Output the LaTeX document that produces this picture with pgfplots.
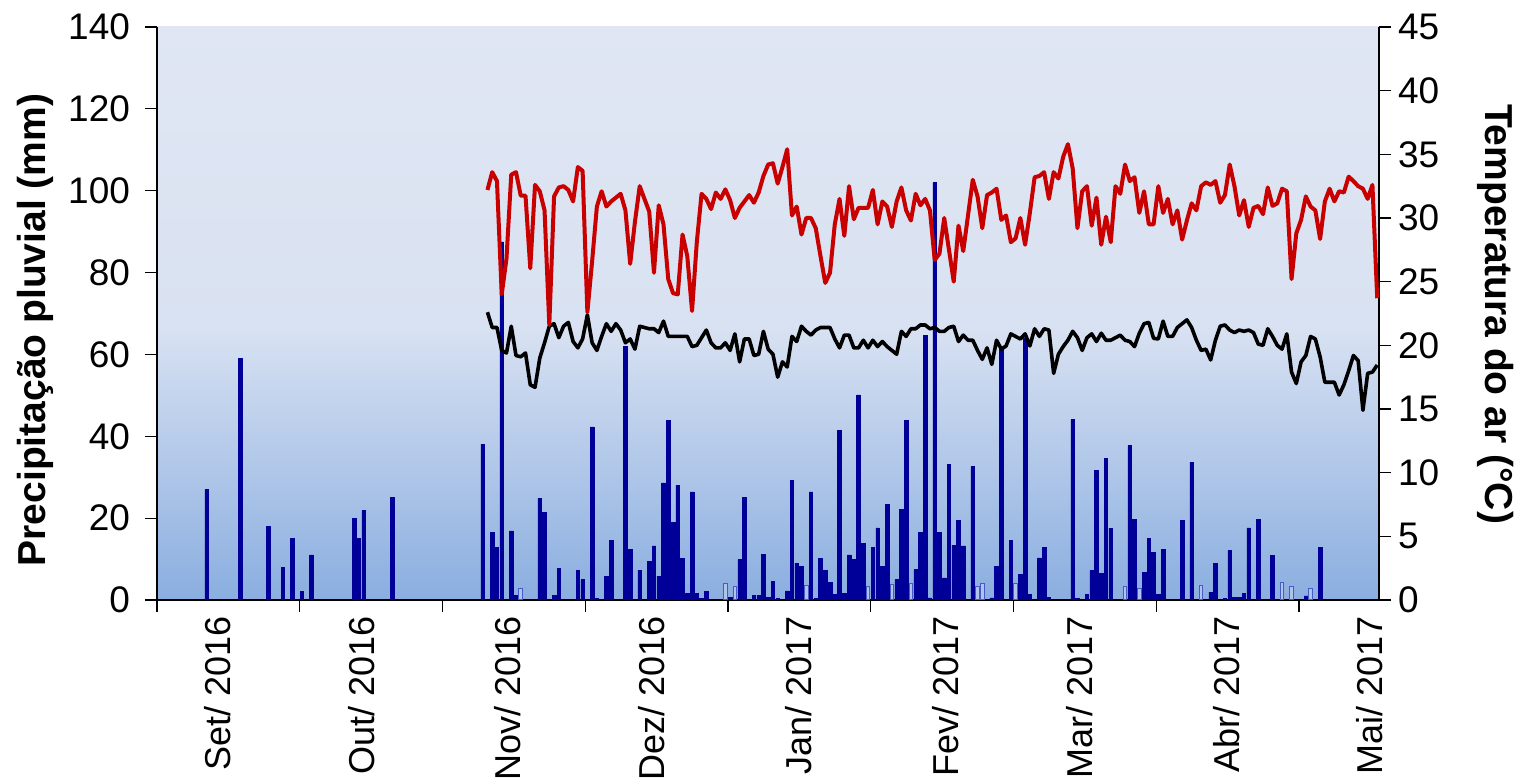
\documentclass[border=0pt]{standalone}
\usepackage{fontspec}
\setmainfont{Liberation Sans}
\usepackage{pgfplots}
\usepackage{pgfplotstable}
\pgfplotsset{compat=1.18}

\definecolor{rainblue}{RGB}{0,0,153}
\definecolor{hollowedge}{RGB}{70,90,200}
\definecolor{hollowfill}{RGB}{175,195,235}
\definecolor{tmaxred}{RGB}{200,0,0}
\definecolor{bgbot}{RGB}{138,174,224}
\definecolor{bgmid}{RGB}{217,226,242}
\definecolor{bgtop}{RGB}{224,230,243}
\pgfdeclareverticalshading{plotbg}{100bp}{color(0bp)=(bgbot); color(25bp)=(bgbot); color(49bp)=(bgmid); color(75bp)=(bgtop); color(100bp)=(bgtop)}

% daily rain (mm), day index k
\pgfplotstableread{
k mm
10 27.0
17 59.0
23 18.0
26 8.0
28 15.0
30 2.1
32 11.0
41 20.0
42 15.1
43 21.9
49 25.1
68 38.0
70 16.5
71 12.8
72 87.5
74 16.9
75 1.2
80 24.8
81 21.4
83 1.1
84 7.7
88 7.3
89 5.0
91 42.3
92 0.4
94 5.7
95 14.6
98 62.0
99 12.4
101 7.3
103 9.4
104 13.2
105 5.8
106 28.6
107 43.8
108 19.0
109 28.0
110 10.2
111 1.6
112 26.4
113 1.6
114 0.4
115 2.1
120 0.7
122 9.9
123 25.1
125 1.1
126 1.1
127 11.2
128 0.7
129 4.6
130 0.3
132 2.2
133 29.2
134 9.0
135 8.2
137 26.4
138 0.3
139 10.1
140 7.2
141 4.3
142 1.4
143 41.4
144 1.6
145 11.0
146 9.9
147 50.1
148 13.8
150 12.9
151 17.6
152 8.2
153 23.4
155 5.0
156 22.2
157 43.8
159 7.4
160 16.5
161 64.7
162 0.5
163 102.0
164 16.5
165 5.4
166 33.2
167 13.4
168 19.5
169 13.2
171 32.6
175 0.5
176 8.2
177 61.5
179 14.6
181 6.3
182 63.9
183 1.4
185 10.3
186 12.9
187 0.7
192 44.1
193 0.4
195 1.4
196 7.2
197 31.6
198 6.5
199 34.5
200 17.5
204 37.7
205 19.7
207 6.8
208 15.1
209 11.6
210 1.4
211 12.4
215 19.5
217 33.6
221 1.9
222 9.0
224 0.4
225 12.1
226 0.7
227 0.7
228 1.6
229 17.6
231 19.6
234 10.9
241 1.0
244 12.8
}\rainsolid

\pgfplotstableread{
k mm
76 2.8
119 4.0
121 3.2
136 3.6
149 3.3
154 3.8
158 4.0
172 3.3
173 4.1
180 4.0
203 3.2
206 2.9
219 3.6
236 4.2
238 3.3
242 2.8
}\rainhollow

% air temperature (C): max and min
\pgfplotstableread{
k tmax tmin
69 32.2 22.6
70 33.6 21.4
71 32.9 21.4
72 24.0 19.6
73 26.8 19.4
74 33.4 21.5
75 33.6 19.2
76 31.75 19.1
77 31.75 19.4
78 26.05 16.9
79 32.6 16.7
80 32.1 19.0
81 30.6 20.2
82 21.6 21.5
83 31.7 21.7
84 32.4 20.6
85 32.5 21.5
86 32.2 21.8
87 31.3 20.3
88 34.0 19.8
89 33.7 20.5
90 22.6 22.4
91 26.6 20.2
92 30.9 19.6
93 32.1 20.7
94 30.9 21.7
95 31.3 21.1
96 31.6 21.7
97 31.9 21.2
98 30.6 20.2
99 26.4 20.5
100 29.7 19.7
101 32.5 21.5
102 31.5 21.4
103 30.5 21.3
104 25.7 21.3
105 31.0 21.0
106 29.5 21.9
107 25.2 20.7
108 24.1 20.7
109 24.0 20.7
110 28.7 20.7
111 27.0 20.7
112 22.7 19.9
113 28.1 20.0
114 31.9 20.6
115 31.5 21.2
116 30.7 20.2
117 32.0 19.8
118 31.5 19.8
119 32.25 20.2
120 31.4 19.6
121 30.0 20.9
122 30.8 18.7
123 31.3 20.5
124 31.8 20.5
125 31.2 19.2
126 32.0 19.3
127 33.3 21.1
128 34.2 19.7
129 34.3 19.3
130 32.7 17.5
131 34.0 18.7
132 35.4 18.3
133 30.2 20.7
134 30.9 20.3
135 28.7 21.5
136 30.0 21.1
137 30.0 20.8
138 29.2 21.2
139 27.0 21.4
140 24.9 21.4
141 25.7 21.4
142 29.5 20.5
143 31.5 19.8
144 28.6 20.8
145 32.5 20.8
146 29.9 19.8
147 30.8 19.8
148 30.8 20.4
149 30.8 19.8
150 32.2 20.4
151 29.5 19.9
152 31.3 20.3
153 30.9 19.9
154 29.3 19.6
155 31.3 19.3
156 32.4 21.1
157 30.6 20.7
158 29.8 21.3
159 31.9 21.3
160 31.0 21.6
161 31.5 21.6
162 30.6 21.3
163 26.7 21.4
164 27.2 21.1
165 30.0 21.1
166 27.5 21.4
167 25.0 21.5
168 29.4 20.3
169 27.4 20.8
170 30.2 20.4
171 33.0 20.4
172 31.7 19.6
173 29.2 18.9
174 31.8 19.8
175 32.0 18.5
176 32.3 20.4
177 29.85 19.7
178 30.2 19.95
179 28.1 20.9
180 28.4 20.7
181 30.0 20.5
182 27.9 20.9
183 30.4 19.95
184 33.2 21.3
185 33.3 20.7
186 33.6 21.3
187 31.5 21.2
188 33.6 17.8
189 33.1 19.3
190 34.8 19.9
191 35.8 20.4
192 33.9 21.1
193 29.2 20.6
194 32.1 19.6
195 32.5 20.6
196 29.4 20.9
197 31.6 20.3
198 27.9 20.95
199 30.1 20.4
200 28.1 20.4
201 32.5 20.6
202 31.9 20.8
203 34.2 20.4
204 32.9 20.3
205 33.2 19.9
206 30.4 20.95
207 32.1 21.7
208 29.5 21.8
209 29.5 20.55
210 32.5 20.5
211 30.4 21.9
212 31.5 20.7
213 29.5 20.7
214 30.6 21.4
215 28.3 21.7
216 29.8 22.0
217 31.15 21.4
218 30.6 20.4
219 32.5 19.6
220 32.8 19.7
221 32.6 18.85
222 32.9 20.4
223 31.2 21.5
224 31.8 21.6
225 34.2 21.2
226 32.5 21.0
227 30.2 21.2
228 31.4 21.1
229 29.3 21.2
230 30.8 21.0
231 30.95 20.1
232 30.3 20.0
233 32.4 21.3
234 30.95 20.7
235 31.15 20.0
236 32.3 19.7
237 32.1 20.9
238 25.2 17.9
239 28.8 17.0
240 29.85 18.7
241 31.7 19.2
242 30.9 20.7
243 30.6 20.5
244 28.35 19.1
245 31.3 17.1
246 32.3 17.1
247 31.3 17.1
248 32.1 16.1
249 32.0 16.9
250 33.25 18.0
251 32.9 19.2
252 32.5 18.8
253 32.3 14.9
254 31.5 17.8
255 32.6 17.9
256 23.7 18.45
}\temps

\begin{document}
\begin{tikzpicture}
\pgfplotsset{
  every axis/.append style={
    width=611pt, height=286.5pt, scale only axis,
    xmin=-0.45, xmax=256.38,
    tick align=outside,
    major tick length=6pt,
    tick style={black, line width=0.6pt},
    axis line style={-},
    /pgf/number format/assume math mode=true,
    yticklabel style={font=\fontsize{18.5}{18.5}\selectfont},
    ylabel style={font=\fontsize{19.5}{19.5}\selectfont\bfseries},
  },
}
\begin{axis}[
  ymin=0, ymax=140, ytick={0,20,...,140},
  axis x line*=bottom, axis y line*=left,
  x axis line style={-, black, line width=1pt},
  y axis line style={-, black, line width=1pt},
  axis background/.style={shading=plotbg},
  yticklabel style={xshift=-4pt},
  xtick={12.37,42.6,73.3,103.6,134.3,165.4,193.5,224.4,254.5},
  xticklabels={Set/ 2016,Out/ 2016,Nov/ 2016,Dez/ 2016,Jan/ 2017,Fev/ 2017,Mar/ 2017,Abr/ 2017,Mai/ 2017},
  xtick style={draw=none},
  xticklabel shift=-1.5pt,
  xticklabel style={rotate=90, anchor=east, font=\fontsize{18}{18}\selectfont},
  extra x ticks={-0.45,29.55,59.55,89.55,119.55,149.55,179.55,209.55,239.55},
  extra x tick labels={},
  extra x tick style={xtick style={draw=black}},
  ylabel={Precipitação pluvial (mm)},
  ylabel style={at={(rel axis cs:-0.0998,0.471)}, anchor=center},
  ybar, bar width=1.8pt,
]
\addplot[bar shift=0pt, fill=rainblue, draw=rainblue, line width=0.3pt] table[x=k, y=mm] {\rainsolid};
\addplot[bar shift=0pt, fill=hollowfill, draw=hollowedge, line width=0.5pt] table[x=k, y=mm] {\rainhollow};
\end{axis}
\begin{axis}[
  ymin=0, ymax=45, ytick={0,5,...,45},
  axis x line=none, axis y line*=right,
  y axis line style={-, black, line width=1.4pt},
  ylabel={Temperatura do ar (°C)},
  ylabel style={at={(rel axis cs:1.095,0.499)}, anchor=center, rotate=180},
]
\addplot[black, line width=1.8pt, line join=round, mark=none] table[x=k, y=tmin] {\temps};
\addplot[tmaxred, line width=2pt, line join=round, mark=none] table[x=k, y=tmax] {\temps};
\end{axis}
\pgfresetboundingbox
\path ([shift={(-78.5pt,-90.5pt)}]current axis.south west) rectangle ([shift={(73.5pt,13.5pt)}]current axis.north east);
\end{tikzpicture}
\end{document}
